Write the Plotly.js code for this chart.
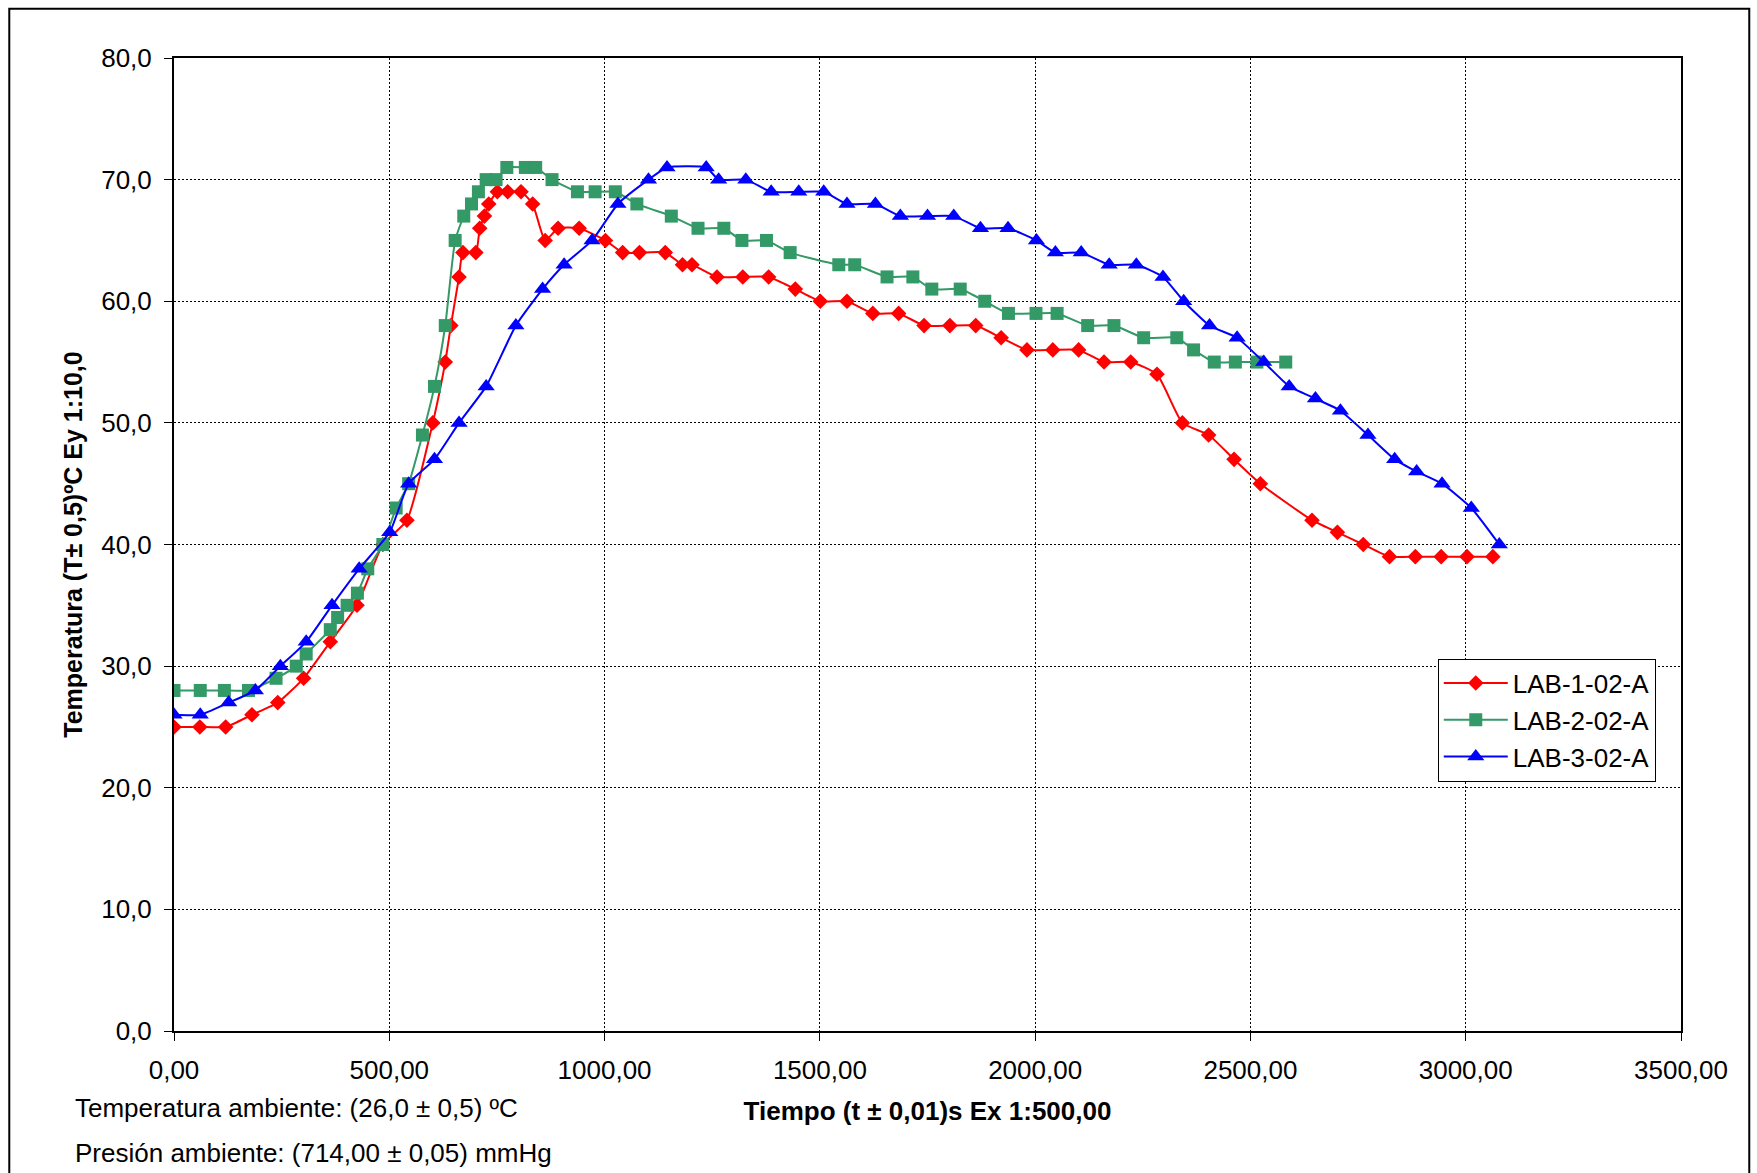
<!DOCTYPE html>
<html>
<head>
<meta charset="utf-8">
<script src="https://cdn.plot.ly/plotly-3.0.1.min.js"></script>
<style>
  html, body { margin: 0; padding: 0; background: #ffffff; }
  #chart { width: 1757px; height: 1173px; }
</style>
</head>
<body>
<div id="chart"></div>
<script>
// ---- Data ----
const seriesNames = ["LAB-1-02-A", "LAB-2-02-A", "LAB-3-02-A"];

const lab1Time = [0,60,120,181,241,301,363,425,485,541,601,630,643,662,671,701,710,721,731,751,775,806,833,862,892,941,1002,1042,1081,1141,1181,1203,1261,1321,1381,1443,1501,1563,1623,1683,1742,1802,1862,1921,1981,2041,2101,2160,2222,2283,2342,2403,2462,2523,2643,2702,2762,2823,2883,2943,3003,3063];
const lab1Temp = [25,25,25,26,27,29,32,35,40,42,50,55,58,62,64,64,66,67,68,69,69,69,68,65,66,66,65,64,64,64,63,63,62,62,62,61,60,60,59,59,58,58,58,57,56,56,56,55,55,54,50,49,47,45,42,41,40,39,39,39,39,39];

const lab2Time = [0,61,117,173,237,284,307,363,380,402,426,450,485,516,545,577,605,630,653,673,691,707,725,748,773,816,840,878,937,978,1025,1075,1155,1217,1277,1319,1376,1431,1544,1581,1656,1716,1760,1826,1883,1938,2002,2051,2122,2183,2252,2329,2368,2416,2465,2515,2582];
const lab2Temp = [28,28,28,28,29,30,31,33,34,35,36,38,40,43,45,49,53,58,65,67,68,69,70,70,71,71,71,70,69,69,69,68,67,66,66,65,65,64,63,63,62,62,61,61,60,59,59,59,58,58,57,57,56,55,55,55,55];

const lab3Time = [0,61,127,189,247,307,367,430,501,545,605,662,725,794,856,906,971,1031,1102,1145,1236,1265,1328,1387,1451,1509,1563,1629,1687,1750,1811,1873,1937,2003,2047,2107,2172,2235,2297,2345,2405,2469,2531,2590,2651,2709,2773,2835,2886,2945,3013,3078];
const lab3Temp = [26,26,27,28,30,32,35,38,41,45,47,50,53,58,61,63,65,68,70,71,71,70,70,69,69,69,68,68,67,67,67,66,66,65,64,64,63,63,62,60,58,57,55,53,52,51,49,47,46,45,43,40];

const xTitle = "Tiempo (t ± 0,01)s Ex 1:500,00";
const yTitle = "Temperatura (T± 0,5)ºC Ey 1:10,0";
const noteTemp = "Temperatura ambiente: (26,0 ± 0,5) ºC";
const notePres = "Presión ambiente: (714,00 ± 0,05) mmHg";

// ---- Styles ----
const FONT = "Liberation Sans, Arial, Helvetica, sans-serif";
const colors = ["#FF0000", "#339966", "#0000FF"];
const symbols = ["diamond", "square", "triangle-up"];
const sizes = [12, 13, 15];

const xs = [lab1Time, lab2Time, lab3Time];
const ys = [lab1Temp, lab2Temp, lab3Temp];

const traces = seriesNames.map((name, i) => ({
  type: "scatter",
  mode: "lines+markers",
  name: name,
  x: xs[i],
  y: ys[i],
  legendgroup: "g" + i,
  line: { color: colors[i], width: 2, shape: "spline", smoothing: 0.5 },
  marker: { color: colors[i], symbol: symbols[i], size: sizes[i], line: { width: 0 } }
}));

const layout = {
  width: 1757,
  height: 1173,
  paper_bgcolor: "#ffffff",
  plot_bgcolor: "#ffffff",
  separators: ",.",
  font: { family: FONT, size: 26, color: "#000000" },
  margin: { l: 174, r: 76, t: 58, b: 142, pad: 0 },
  showlegend: true,
  legend: {
    x: 0.8386, y: 0.3828, xanchor: "left", yanchor: "top",
    bgcolor: "#ffffff", bordercolor: "#000000", borderwidth: 1,
    font: { family: FONT, size: 26, color: "#000000" },
    traceorder: "grouped", tracegroupgap: 0,
    itemwidth: 64
  },
  xaxis: {
    range: [0, 3500],
    dtick: 500, tick0: 0,
    tickformat: ".2f",
    ticks: "outside", ticklen: 8, tickwidth: 1, tickcolor: "#000000",
    ticklabelstandoff: 7,
    showline: true, linecolor: "#000000", linewidth: 2, mirror: true,
    showgrid: true, gridcolor: "#000000", gridwidth: 1, griddash: "2px,2px",
    zeroline: false,
    tickfont: { family: FONT, size: 26, color: "#000000" },
    title: { text: xTitle, font: { family: FONT, size: 26, color: "#000000", weight: "bold" }, standoff: 18 }
  },
  yaxis: {
    range: [0, 80],
    dtick: 10, tick0: 0,
    tickformat: ".1f",
    ticks: "outside", ticklen: 8, tickwidth: 1, tickcolor: "#000000",
    ticklabelstandoff: 7,
    showline: true, linecolor: "#000000", linewidth: 2, mirror: true,
    showgrid: true, gridcolor: "#000000", gridwidth: 1, griddash: "2px,2px",
    zeroline: false,
    tickfont: { family: FONT, size: 26, color: "#000000" },
    title: { text: yTitle, font: { family: FONT, size: 25, color: "#000000", weight: "bold" }, standoff: 11 }
  },
  shapes: [
    { type: "rect", xref: "paper", yref: "paper",
      x0: -0.1093, x1: 1.0453, y0: -0.16, y1: 1.0507,
      line: { color: "#000000", width: 2 }, fillcolor: "rgba(0,0,0,0)", layer: "below" }
  ],
  annotations: [
    { xref: "paper", yref: "paper", x: -0.067, y: -0.0793, xanchor: "left", yanchor: "middle",
      text: noteTemp, showarrow: false, font: { family: FONT, size: 26, color: "#000000" } },
    { xref: "paper", yref: "paper", x: -0.067, y: -0.1255, xanchor: "left", yanchor: "middle",
      text: notePres, showarrow: false, font: { family: FONT, size: 26, color: "#000000" } }
  ]
};

Plotly.newPlot("chart", traces, layout, { displayModeBar: false, staticPlot: true });
</script>
</body>
</html>
